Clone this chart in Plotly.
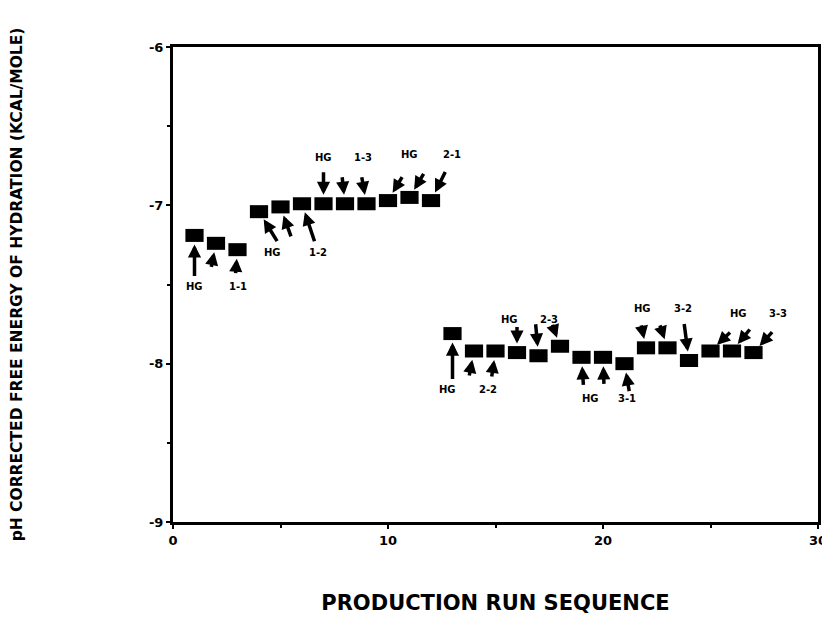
import plotly.graph_objects as go

run = list(range(1, 28))
energy = [-7.19, -7.24, -7.28, -7.04, -7.01, -6.99, -6.99, -6.99, -6.99, -6.97, -6.95, -6.97,
          -7.81, -7.92, -7.92, -7.93, -7.95, -7.89, -7.96, -7.96, -8.00, -7.90, -7.90, -7.98,
          -7.92, -7.92, -7.93]

y_ticks = [-6, -7, -8, -9]
x_ticks = [0, 10, 20, 30]

group_names = ["1-1", "1-2", "1-3", "2-1", "2-2", "2-3", "3-1", "3-2", "3-3"]

# arrow tail offsets (pixels) for each point
arrow_dx = [0, -5, -2, 19, 11, 13, 0, -3, -5, 15, 15, 15,
            0, -5, -4, 0, -3, -8, 2, 1, 5, -5, -8, -5, 21, 19, 20]
arrow_dy = [42, 25, 25, 31, 31, 39, -33, -28, -28, -25, -25, -30,
            47, 26, 27, -27, -33, -23, 29, 28, 29, -24, -24, -38, -20, -23, -22]

# label positions (data coords): HG x, number x, y
label_hg_x = [1.02, 4.65, 6.98, 11.02, 12.79, 15.67, 19.40, 21.86, 26.28]
label_num_x = [3.02, 6.74, 8.84, 12.98, 14.65, 17.49, 21.12, 23.72, 28.14]
label_y = [-7.51, -7.30, -6.70, -6.68, -8.16, -7.72, -8.22, -7.65, -7.68]

FONT = "Liberation Sans"
WIDE = "DejaVu Sans"

fig = go.Figure()
fig.add_trace(go.Scatter(
    x=run, y=energy, mode="markers",
    marker=dict(symbol="line-ew", size=13, color="black",
                line=dict(width=13, color="black")),
    showlegend=False, hoverinfo="x+y"))

ann = []
for xi, yi, dx, dy in zip(run, energy, arrow_dx, arrow_dy):
    ann.append(dict(x=xi, y=yi, xref="x", yref="y", text="", showarrow=True,
                    ax=dx, ay=dy, arrowhead=2, arrowsize=0.75, arrowwidth=3.5,
                    arrowcolor="black", standoff=9))
for name, hx, nx, ly in zip(group_names, label_hg_x, label_num_x, label_y):
    ann.append(dict(x=hx, y=ly, xref="x", yref="y", text="<b>HG</b>", showarrow=False,
                    font=dict(family=WIDE, size=10, color="black")))
    ann.append(dict(x=nx, y=ly, xref="x", yref="y", text="<b>" + name + "</b>", showarrow=False,
                    font=dict(family=WIDE, size=10, color="black")))

# page body has an 8px margin, so the figure is sized/offset to compensate
fig.update_layout(
    width=822, height=612,
    margin=dict(l=165, r=12, t=39, b=98, autoexpand=False),
    paper_bgcolor="white", plot_bgcolor="white",
    font=dict(family=FONT, color="black"),
    annotations=ann,
    xaxis=dict(range=[0, 30], tickvals=x_ticks, ticktext=["<b>%d</b>" % v for v in x_ticks],
               automargin=False,
               showgrid=False, zeroline=False, showline=True, linecolor="black", linewidth=3,
               mirror=True, ticks="outside", ticklen=4, tickwidth=2, tickcolor="black",
               minor=dict(tickvals=[5, 15, 25], ticks="outside", ticklen=3, tickwidth=2, tickcolor="black"),
               tickfont=dict(family=WIDE, size=13),
               title=dict(text="<b>PRODUCTION RUN SEQUENCE</b>", font=dict(family=WIDE, size=21),
                          standoff=49)),
    yaxis=dict(range=[-9, -6], tickvals=y_ticks, ticktext=["<b>%d</b>" % v for v in y_ticks],
               automargin=False,
               showgrid=False, zeroline=False, showline=True, linecolor="black", linewidth=3,
               mirror=True, ticks="outside", ticklen=4, tickwidth=2, tickcolor="black",
               minor=dict(tickvals=[-6.5, -7.5, -8.5], ticks="outside", ticklen=3, tickwidth=2, tickcolor="black"),
               tickfont=dict(family=WIDE, size=13),
               title=dict(text="<b>pH CORRECTED FREE ENERGY OF HYDRATION (KCAL/MOLE)</b>",
                          font=dict(family=WIDE, size=15.5), standoff=125)),
)

fig.write_html("out.html")
